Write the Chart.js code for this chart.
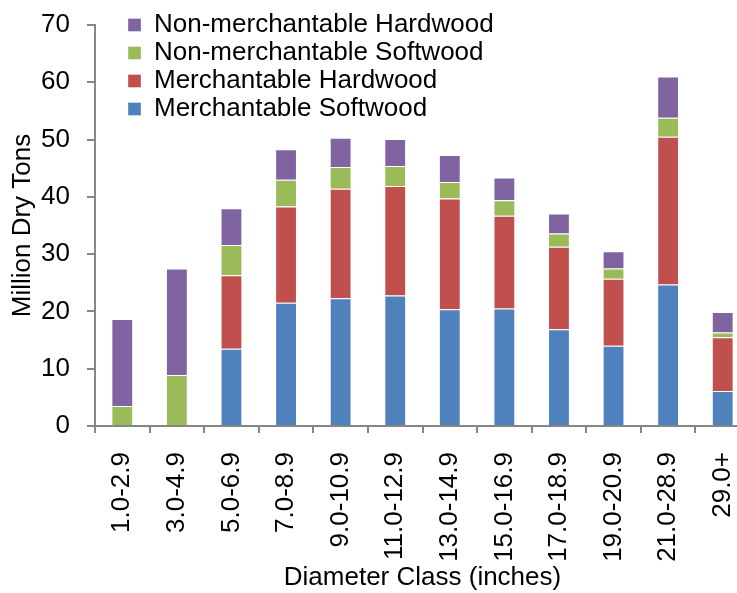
<!DOCTYPE html>
<html>
<head>
<meta charset="utf-8">
<script src="https://cdn.jsdelivr.net/npm/chart.js@4/dist/chart.umd.min.js"></script>
<style>
  html, body { margin: 0; padding: 0; background: #fff; overflow: hidden; }
  #wrap { width: 752px; height: 593px; }
</style>
</head>
<body>
<div id="wrap"><canvas id="bar-chart"></canvas></div>
<script>
const labels = ['1.0-2.9', '3.0-4.9', '5.0-6.9', '7.0-8.9', '9.0-10.9', '11.0-12.9',
  '13.0-14.9', '15.0-16.9', '17.0-18.9', '19.0-20.9', '21.0-28.9', '29.0+']

const merchSoftwood = [0, 0, 13.5, 21.5, 22.3, 22.8, 20.4, 20.5, 16.9, 14.0, 24.7, 6.1]
const merchHardwood = [0, 0, 12.8, 16.8, 19.1, 19.1, 19.3, 16.2, 14.4, 11.7, 25.8, 9.4]
const nonMerchSoftwood = [3.5, 8.9, 5.3, 4.7, 3.8, 3.5, 2.9, 2.7, 2.3, 1.8, 3.3, 0.8]
const nonMerchHardwood = [15.2, 18.6, 6.4, 5.3, 5.1, 4.7, 4.7, 4.0, 3.5, 3.0, 7.2, 3.6]

const axisColor = '#868686'
const font = { family: 'Liberation Sans, Arial, sans-serif', size: 26 }

function series(label, values, color) {
  return {
    label: label,
    data: values,
    backgroundColor: color,
    borderColor: 'rgba(255,255,255,0.35)',
    borderWidth: 1,
    barPercentage: 0.4,
    categoryPercentage: 1,
  }
}

// legend sits partly above the plot, put it where the original has it
const legendShift = {
  id: 'legendShift',
  afterLayout(chart) {
    chart.legend.left = 126
    chart.legend.top = 10
  },
}

const data = {
  labels: labels,
  datasets: [
    series('Merchantable Softwood', merchSoftwood, '#4F81BD'),
    series('Merchantable Hardwood', merchHardwood, '#C0504D'),
    series('Non-merchantable Softwood', nonMerchSoftwood, '#9BBB59'),
    series('Non-merchantable Hardwood', nonMerchHardwood, '#8064A2'),
  ],
}

const config = {
  type: 'bar',
  data: data,
  plugins: [legendShift],
  options: {
    responsive: true,
    maintainAspectRatio: false,
    animation: false,
    layout: { padding: { top: 0, right: 2, left: 2, bottom: 0 } },
    plugins: {
      tooltip: { enabled: false },
      legend: {
        position: 'chartArea',
        align: 'start',
        reverse: true,
        labels: {
          boxWidth: 13,
          boxHeight: 13,
          padding: 2,
          color: '#000',
          font: font,
        },
      },
    },
    scales: {
      x: {
        stacked: true,
        // chart.js reserves tick padding twice, take the spare room back
        afterFit: (scale) => {
          scale.height = 167
          scale.paddingLeft = 0
          scale.paddingRight = 0
        },
        grid: { display: true, drawOnChartArea: false, offset: true, color: axisColor, lineWidth: 2, tickLength: 7 },
        border: { color: axisColor, width: 2 },
        ticks: { color: '#000', font: font, minRotation: 90, maxRotation: 90, padding: 19 },
        title: { display: true, text: 'Diameter Class (inches)', color: '#000', font: font, padding: { top: 0, bottom: 0 } },
      },
      y: {
        stacked: true,
        min: 0,
        max: 70,
        afterFit: (scale) => {
          scale.width = 93
          scale.paddingTop = 25
        },
        grid: { display: true, drawOnChartArea: false, color: axisColor, lineWidth: 2, tickLength: 8 },
        border: { color: axisColor, width: 2 },
        ticks: { stepSize: 10, color: '#000', font: font, padding: 17 },
        title: { display: true, text: 'Million Dry Tons', color: '#000', font: font, padding: { top: 5, bottom: 0 } },
      },
    },
  },
}

const bar_chart = document.getElementById('bar-chart')
const chart = new Chart(bar_chart, config)
</script>
</body>
</html>
